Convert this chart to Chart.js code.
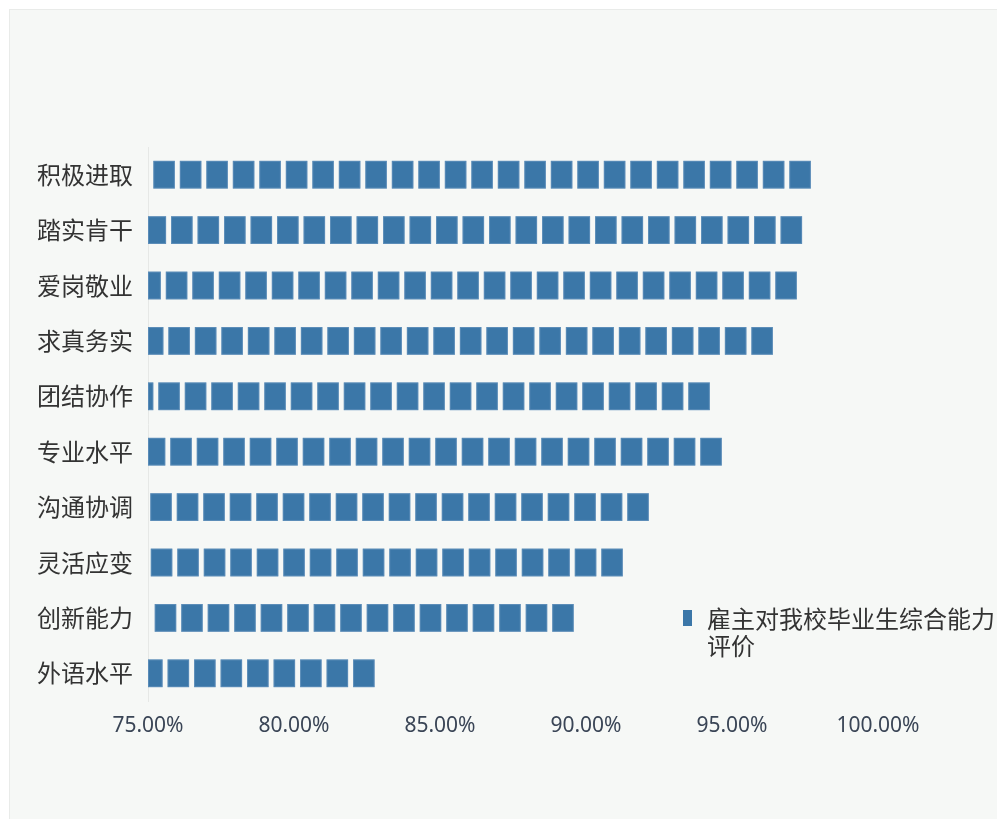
<!DOCTYPE html>
<html>
<head>
<meta charset="utf-8">
<script src="https://cdn.jsdelivr.net/npm/chart.js@4/dist/chart.umd.min.js"></script>
<style>
    html, body { margin: 0; padding: 0; background: #ffffff; }
    #card {
        position: absolute; left: 9px; top: 9px; width: 1000px; height: 820px;
        background: #f6f8f6; border: 1px solid #e9ebe9;
    }
    #chart { position: absolute; left: 0; top: 0; }
    #legend {
        position: absolute; left: 683px; top: 604px;
        font-family: "Noto Sans CJK SC", sans-serif; font-size: 24px; line-height: 27px; color: #333;
    }
    #legend .box { position: absolute; left: 0; top: 6px; width: 9px; height: 16px; background: #3b77a8; }
    #legend .txt { position: absolute; left: 24px; top: 0; width: 292px; }
</style>
</head>
<body>
<div id="card"></div>
<canvas id="chart" width="997" height="819"></canvas>
<div id="legend"><div class="box"></div><div class="txt" id="legendText"></div></div>
<script>
// chart data
const categories = ["积极进取", "踏实肯干", "爱岗敬业", "求真务实", "团结协作", "专业水平", "沟通协调", "灵活应变", "创新能力", "外语水平"];
const scores = [97.70, 97.40, 97.22, 96.40, 94.24, 94.65, 92.15, 91.26, 89.58, 82.76];
const seriesName = "雇主对我校毕业生综合能力评价";
const axisMin = 75;
const axisMax = 100;
const axisStep = 5;

const barColor = "#3b77a8";

document.getElementById("legendText").textContent = seriesName;

// draws each bar as a row of small squares, stacked from the bar end towards the axis
const squareBars = {
    id: "squareBars",
    afterDatasetsDraw(chart) {
        const ctx = chart.ctx;
        const meta = chart.getDatasetMeta(0);
        const period = 26.5;
        const sq = 21.5;
        ctx.save();
        ctx.fillStyle = barColor;
        ctx.strokeStyle = "rgba(120, 160, 200, 0.5)";
        ctx.lineWidth = 1;
        for (const bar of meta.data) {
            const base = Math.max(bar.base, chart.chartArea.left);
            const top = bar.y - bar.height / 2;
            let r = bar.x;
            while (r > base) {
                const l = Math.max(r - sq, base);
                if (r - l >= 3) {
                    ctx.fillRect(l, top, r - l, bar.height);
                    ctx.strokeRect(l + 0.5, top + 0.5, r - l - 1, bar.height - 1);
                }
                r -= period;
            }
        }
        ctx.restore();
    }
};

const ctx = document.getElementById("chart").getContext("2d");
new Chart(ctx, {
    type: "bar",
    data: {
        labels: categories,
        datasets: [{
            label: seriesName,
            data: scores,
            base: axisMin,
            backgroundColor: "rgba(0,0,0,0)",
            borderWidth: 0,
            categoryPercentage: 1,
            barPercentage: 0.5
        }]
    },
    options: {
        indexAxis: "y",
        responsive: false,
        animation: false,
        layout: { padding: { left: 0, right: 119, top: 147, bottom: 0 } },
        plugins: {
            legend: { display: false },
            tooltip: { enabled: false }
        },
        scales: {
            x: {
                min: axisMin,
                max: axisMax,
                grid: { display: false, drawTicks: false },
                border: { display: false },
                ticks: {
                    stepSize: axisStep,
                    padding: 12,
                    color: "#3a4556",
                    font: { family: "'Noto Sans', sans-serif", size: 21 },
                    callback: (v) => v.toFixed(2) + "%"
                },
                afterFit: (axis) => { axis.height = 118; }
            },
            y: {
                grid: { display: false, drawTicks: false },
                border: { display: true, color: "#e6e8e6" },
                ticks: {
                    padding: 15,
                    color: "#333333",
                    font: { family: "'Noto Sans CJK SC', sans-serif", size: 24 }
                },
                afterFit: (axis) => { axis.width = 148; }
            }
        }
    },
    plugins: [squareBars]
});
</script>
</body>
</html>
